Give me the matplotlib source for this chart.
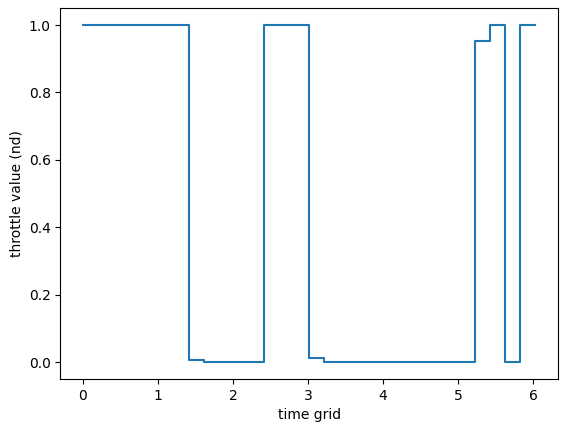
import numpy as np
import matplotlib
matplotlib.use("Agg")
import matplotlib.pyplot as plt

# time grid: 30 intervals up to final time
t_final = 6.03
n_int = 30
time_grid = np.linspace(0, t_final, n_int + 1)

# throttle per interval (last value repeated for the end point)
throttle = [1.0, 1.0, 1.0, 1.0, 1.0, 1.0, 1.0,
            0.006,
            0.0, 0.0, 0.0, 0.0,
            1.0, 1.0, 1.0,
            0.013,
            0.0, 0.0, 0.0, 0.0, 0.0, 0.0, 0.0, 0.0, 0.0, 0.0,
            0.953, 1.0, 0.0, 1.0,
            1.0]

fig = plt.figure(figsize=(5.67, 4.32), dpi=100)
ax = fig.add_axes([0.1065, 0.1229, 0.8774, 0.8581])
ax.step(time_grid, throttle, where='post')
ax.set_xlabel('time grid')
ax.set_ylabel('throttle value (nd)')
fig.savefig('out.png', dpi=100)
